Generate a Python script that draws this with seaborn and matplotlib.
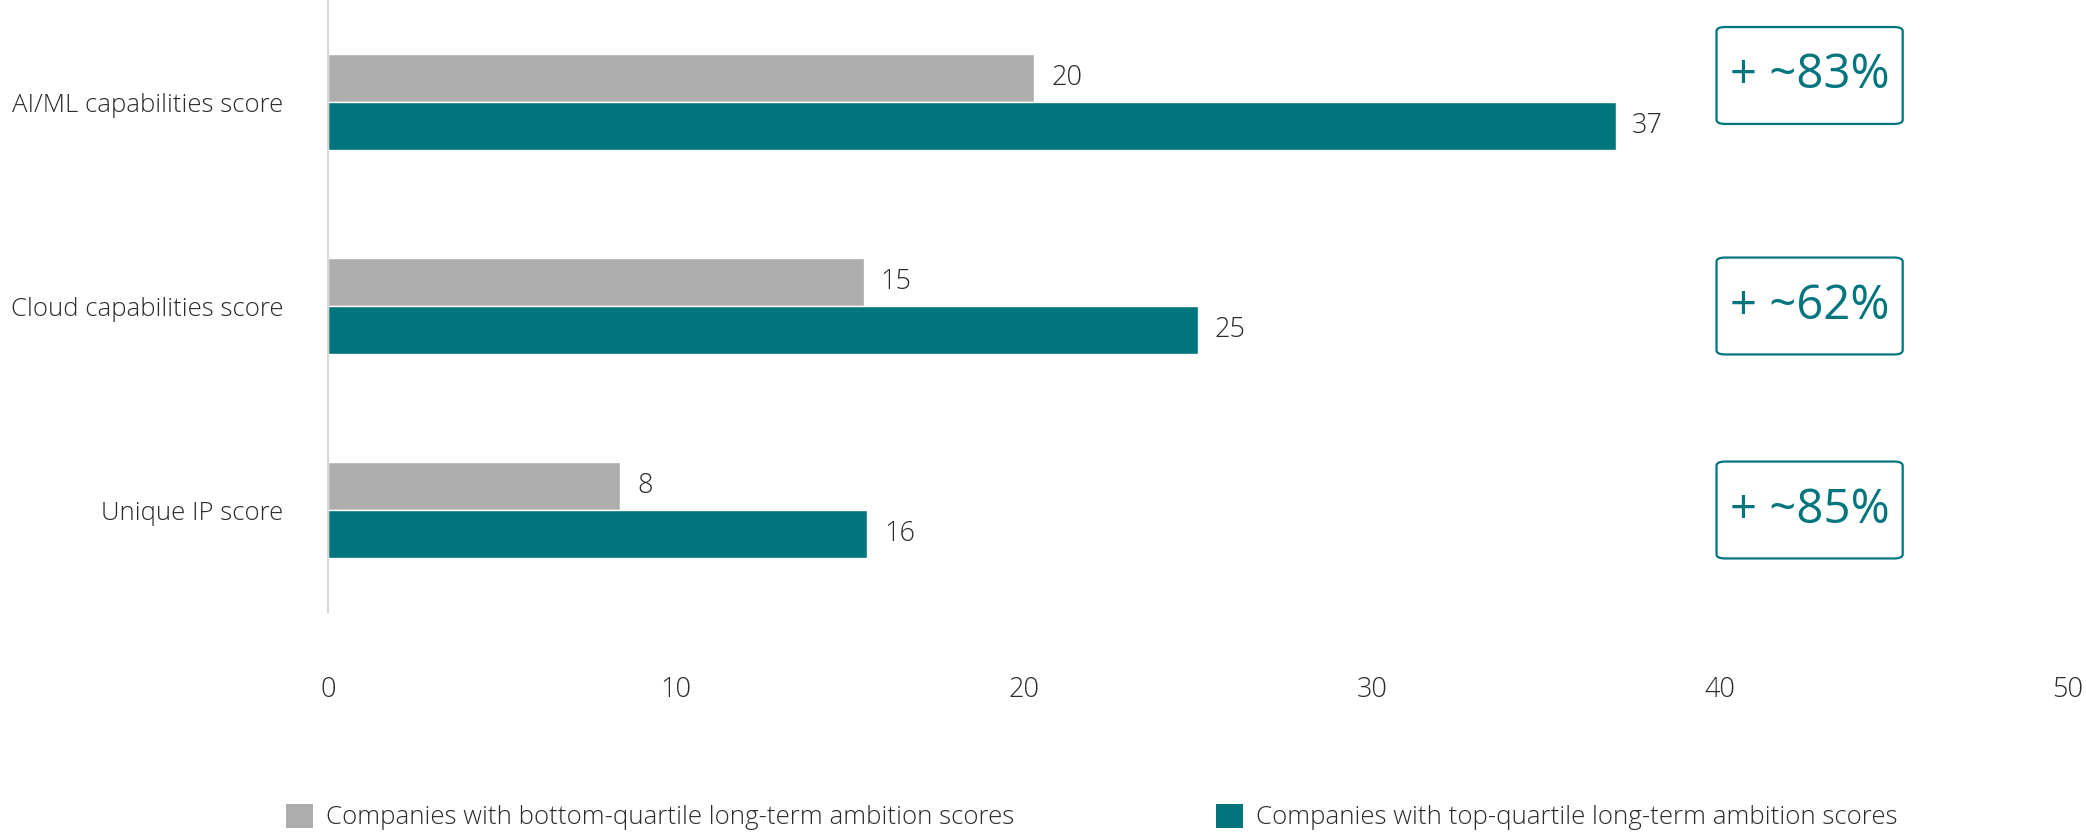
import matplotlib
matplotlib.use("Agg")
import matplotlib.pyplot as plt
from matplotlib.patches import FancyBboxPatch, Patch
import seaborn as sns
import pandas as pd

# Scores by capability and ambition quartile
categories = ["AI/ML capabilities score", "Cloud capabilities score", "Unique IP score"]
groups = [
    "Companies with bottom-quartile long-term ambition scores",
    "Companies with top-quartile long-term ambition scores",
]
bottom_scores = [20.3, 15.4, 8.4]
top_scores = [37.0, 25.0, 15.5]
uplift_labels = ["+ ~83%", "+ ~62%", "+ ~85%"]
x_ticks = [0, 10, 20, 30, 40, 50]

GRAY = "#adadad"
TEAL = "#00757d"
TEXT = "#2b2b2b"

df = pd.DataFrame({
    "category": categories * 2,
    "group": [groups[0]] * 3 + [groups[1]] * 3,
    "score": bottom_scores + top_scores,
})

sns.set_theme(style="white")
plt.rcParams["font.family"] = ["Open Sans", "DejaVu Sans"]

fig = plt.figure(figsize=(20.86, 8.32), dpi=100)
ax = fig.add_axes([328 / 2086, 1 - 612 / 832, 1740 / 2086, 612 / 832])

sns.barplot(
    data=df, y="category", x="score", hue="group", order=categories,
    hue_order=groups, palette=[GRAY, TEAL], orient="h", width=0.47,
    saturation=1, ax=ax, legend=False, errorbar=None,
)

for cont in ax.containers:
    vals = [b.get_width() for b in cont]
    ax.bar_label(cont, labels=[f"{v:.0f}" for v in vals], padding=12,
                 fontsize=19.5, color=TEXT, fontweight="light")

ax.set_xlim(0, 50)
ax.set_ylim(2.5, -0.5)
ax.set_xticks(x_ticks)
ax.set_xticklabels([str(t) for t in x_ticks])
ax.set_xlabel("")
ax.set_ylabel("")
ax.tick_params(axis="x", length=0, pad=46, labelsize=19.5, labelcolor=TEXT)
ax.tick_params(axis="y", length=0, pad=32, labelsize=18.5, labelcolor=TEXT)
for lab in ax.get_xticklabels() + ax.get_yticklabels():
    lab.set_fontweight("light")

for side in ["top", "right", "bottom"]:
    ax.spines[side].set_visible(False)
ax.spines["left"].set_color("#d6d6d6")
ax.spines["left"].set_linewidth(1.5)

# Uplift call-out boxes
box_x0, box_w, box_h = 39.9, 5.35, 0.475
box_shift = [-0.13, 0.0, 0.0]
for i, txt in enumerate(uplift_labels):
    yc = i + box_shift[i]
    ax.add_patch(FancyBboxPatch(
        (box_x0, yc - box_h / 2), box_w, box_h,
        boxstyle="round,pad=0,rounding_size=0.25", mutation_aspect=0.08,
        fc="white", ec=TEAL, lw=1.6, clip_on=False, zorder=3))
    ax.text(box_x0 + box_w / 2, yc, txt, ha="center", va="center",
            fontsize=34, color=TEAL, zorder=4)

handles = [Patch(facecolor=GRAY, edgecolor="none"), Patch(facecolor=TEAL, edgecolor="none")]
leg = fig.legend(
    handles, groups, loc="center", bbox_to_anchor=(0.5233, 0.018), ncol=2,
    frameon=False, prop={"size": 18.6, "weight": "light"},
    handlelength=1.05, handleheight=1.05,
    handletextpad=0.5, columnspacing=7.8, borderaxespad=0,
)
for t in leg.get_texts():
    t.set_color(TEXT)

fig.savefig("out.png", dpi=100)
